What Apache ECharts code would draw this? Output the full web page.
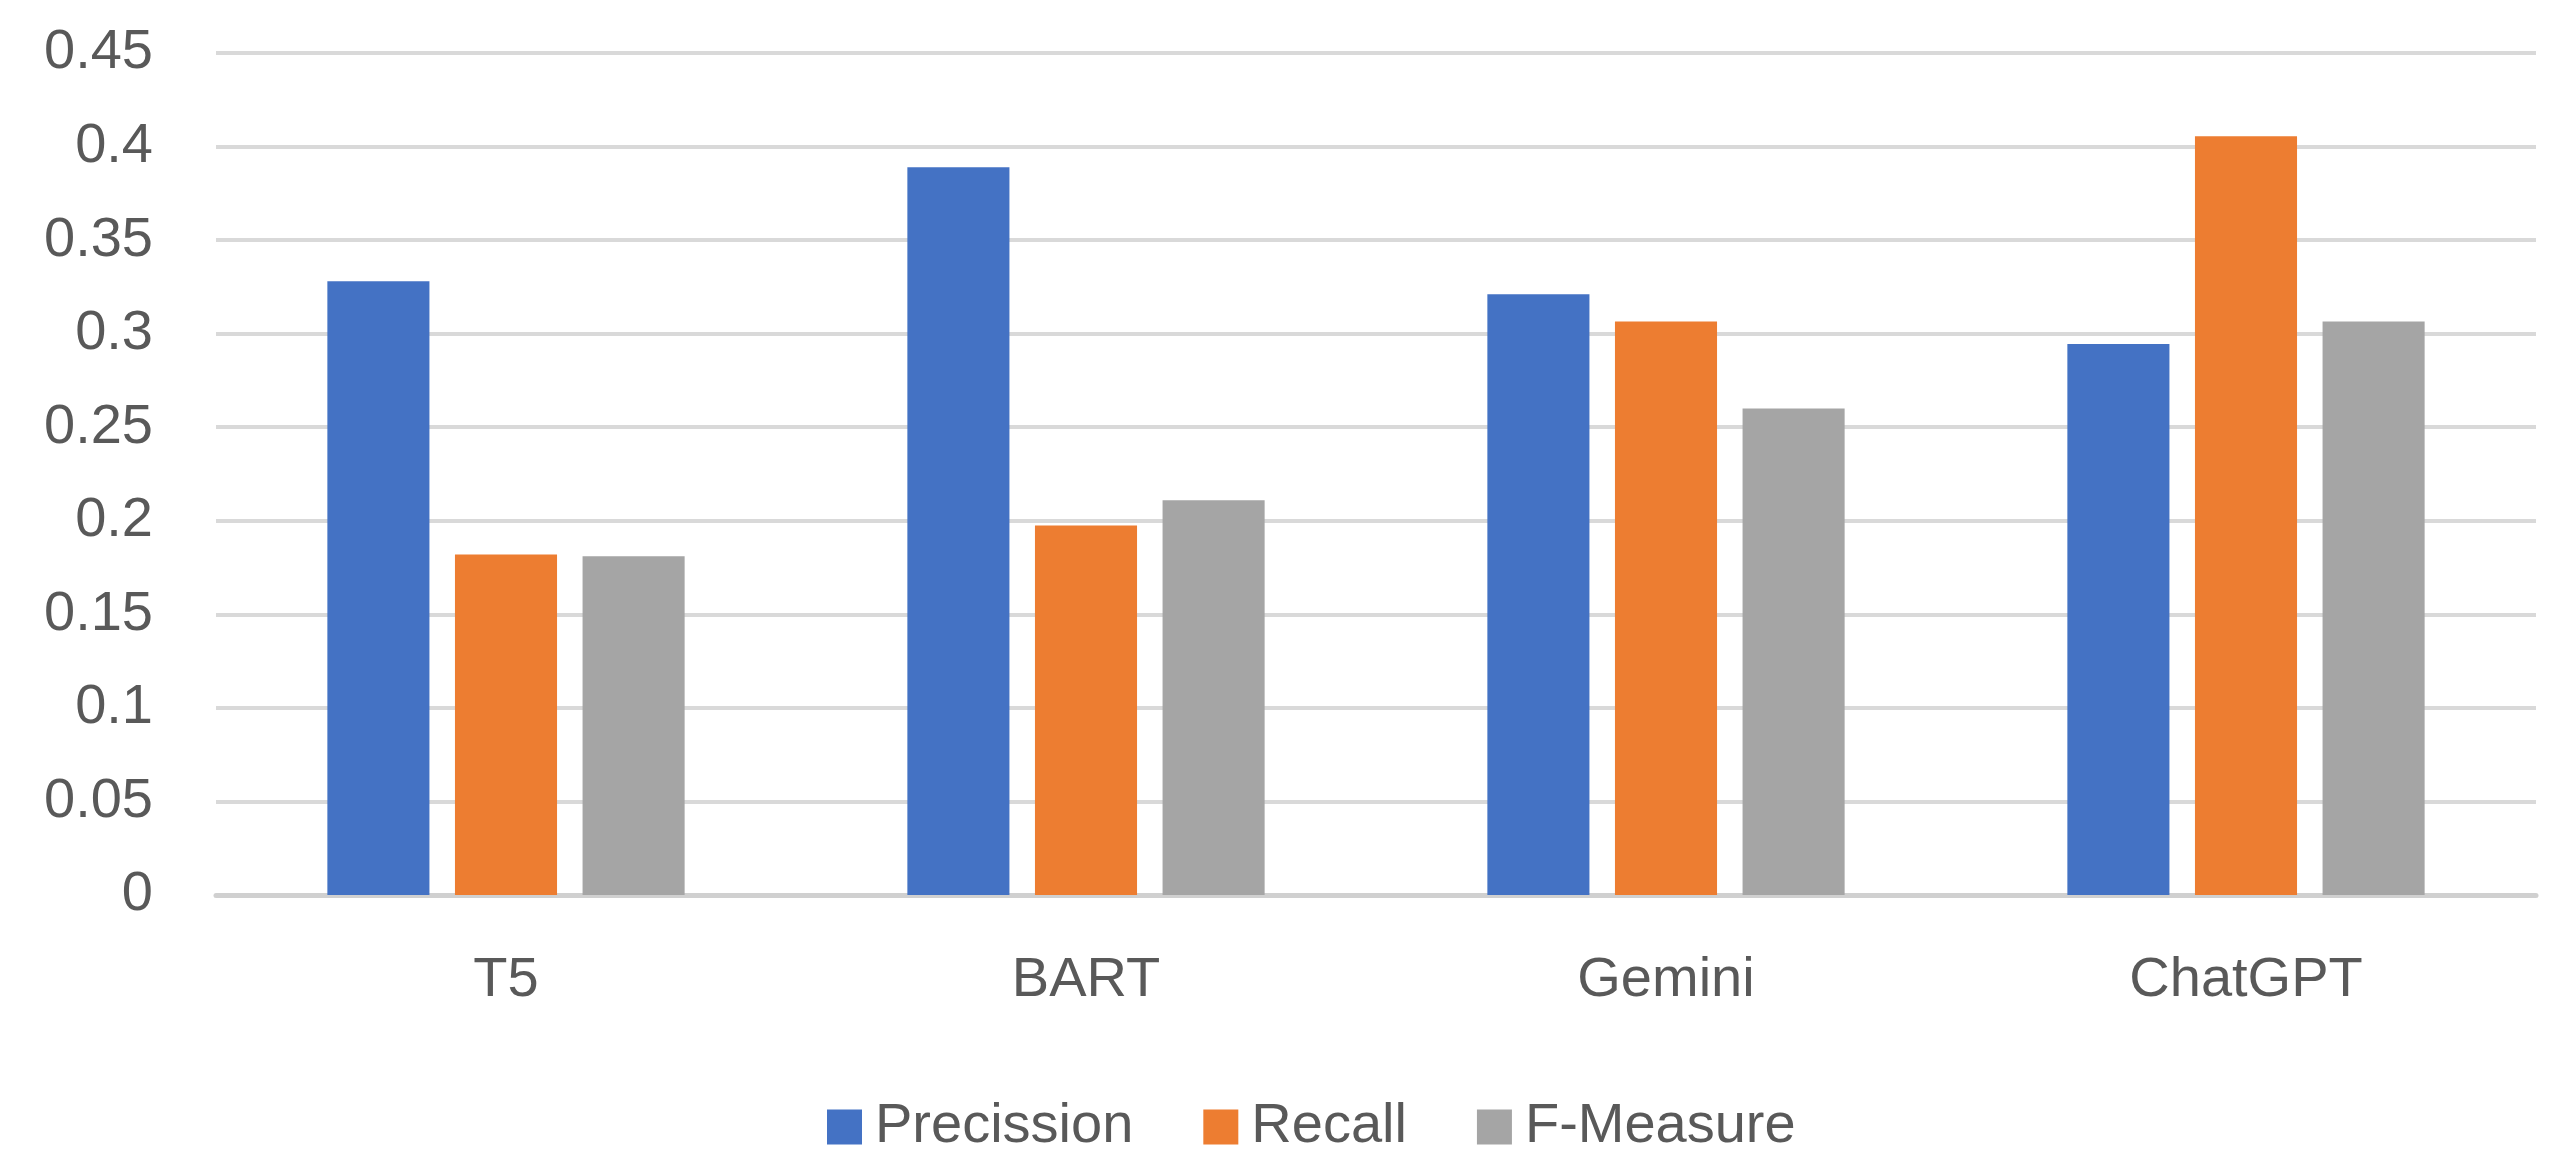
<!DOCTYPE html>
<html>
<head>
<meta charset="utf-8">
<script src="https://cdn.jsdelivr.net/npm/echarts@6/dist/echarts.min.js"></script>
<style>html,body{margin:0;padding:0;background:#fff}#c{width:2574px;height:1174px}</style>
</head>
<body>
<div id="c"></div>
<script>
const categories = ['T5', 'BART', 'Gemini', 'ChatGPT'];
const precission = [0.328, 0.389, 0.321, 0.2945];
const recall = [0.182, 0.1975, 0.3065, 0.4055];
const fMeasure = [0.181, 0.211, 0.26, 0.3065];
const seriesNames = ['Precission', 'Recall', 'F-Measure'];
const colors = ['#4472C4', '#ED7D31', '#A5A5A5'];

const font = 'Liberation Sans';
const chart = echarts.init(document.getElementById('c'));
const mk = (name, data, color) => ({
  name, type: 'bar', data, barWidth: '17.6%', barGap: '25%',
  itemStyle: { color }
});
chart.setOption({
  animation: false,
  color: colors,
  grid: { left: 216, right: 38, top: 53, bottom: 279, containLabel: false },
  legend: {
    left: 822, top: 1094, itemWidth: 35, itemHeight: 35, itemGap: 70,
    icon: 'rect',
    textStyle: { fontFamily: font, fontSize: 56, color: '#595959', padding: [0, 0, 0, 8] },
    data: seriesNames
  },
  xAxis: {
    type: 'category', data: categories,
    axisLine: { lineStyle: { color: '#D0D0D0', width: 5 } },
    axisTick: { show: false },
    axisLabel: { fontFamily: font, fontSize: 56, color: '#595959', margin: 58 }
  },
  yAxis: {
    type: 'value', min: 0, max: 0.45, interval: 0.05,
    axisLine: { show: false }, axisTick: { show: false },
    splitLine: { lineStyle: { color: '#D9D9D9', width: 4 } },
    axisLabel: { fontFamily: font, fontSize: 56, color: '#595959', margin: 63,
      formatter: v => String(parseFloat(v.toFixed(2))) }
  },
  series: [
    mk(seriesNames[0], precission, colors[0]),
    mk(seriesNames[1], recall, colors[1]),
    mk(seriesNames[2], fMeasure, colors[2])
  ]
});
</script>
</body>
</html>
